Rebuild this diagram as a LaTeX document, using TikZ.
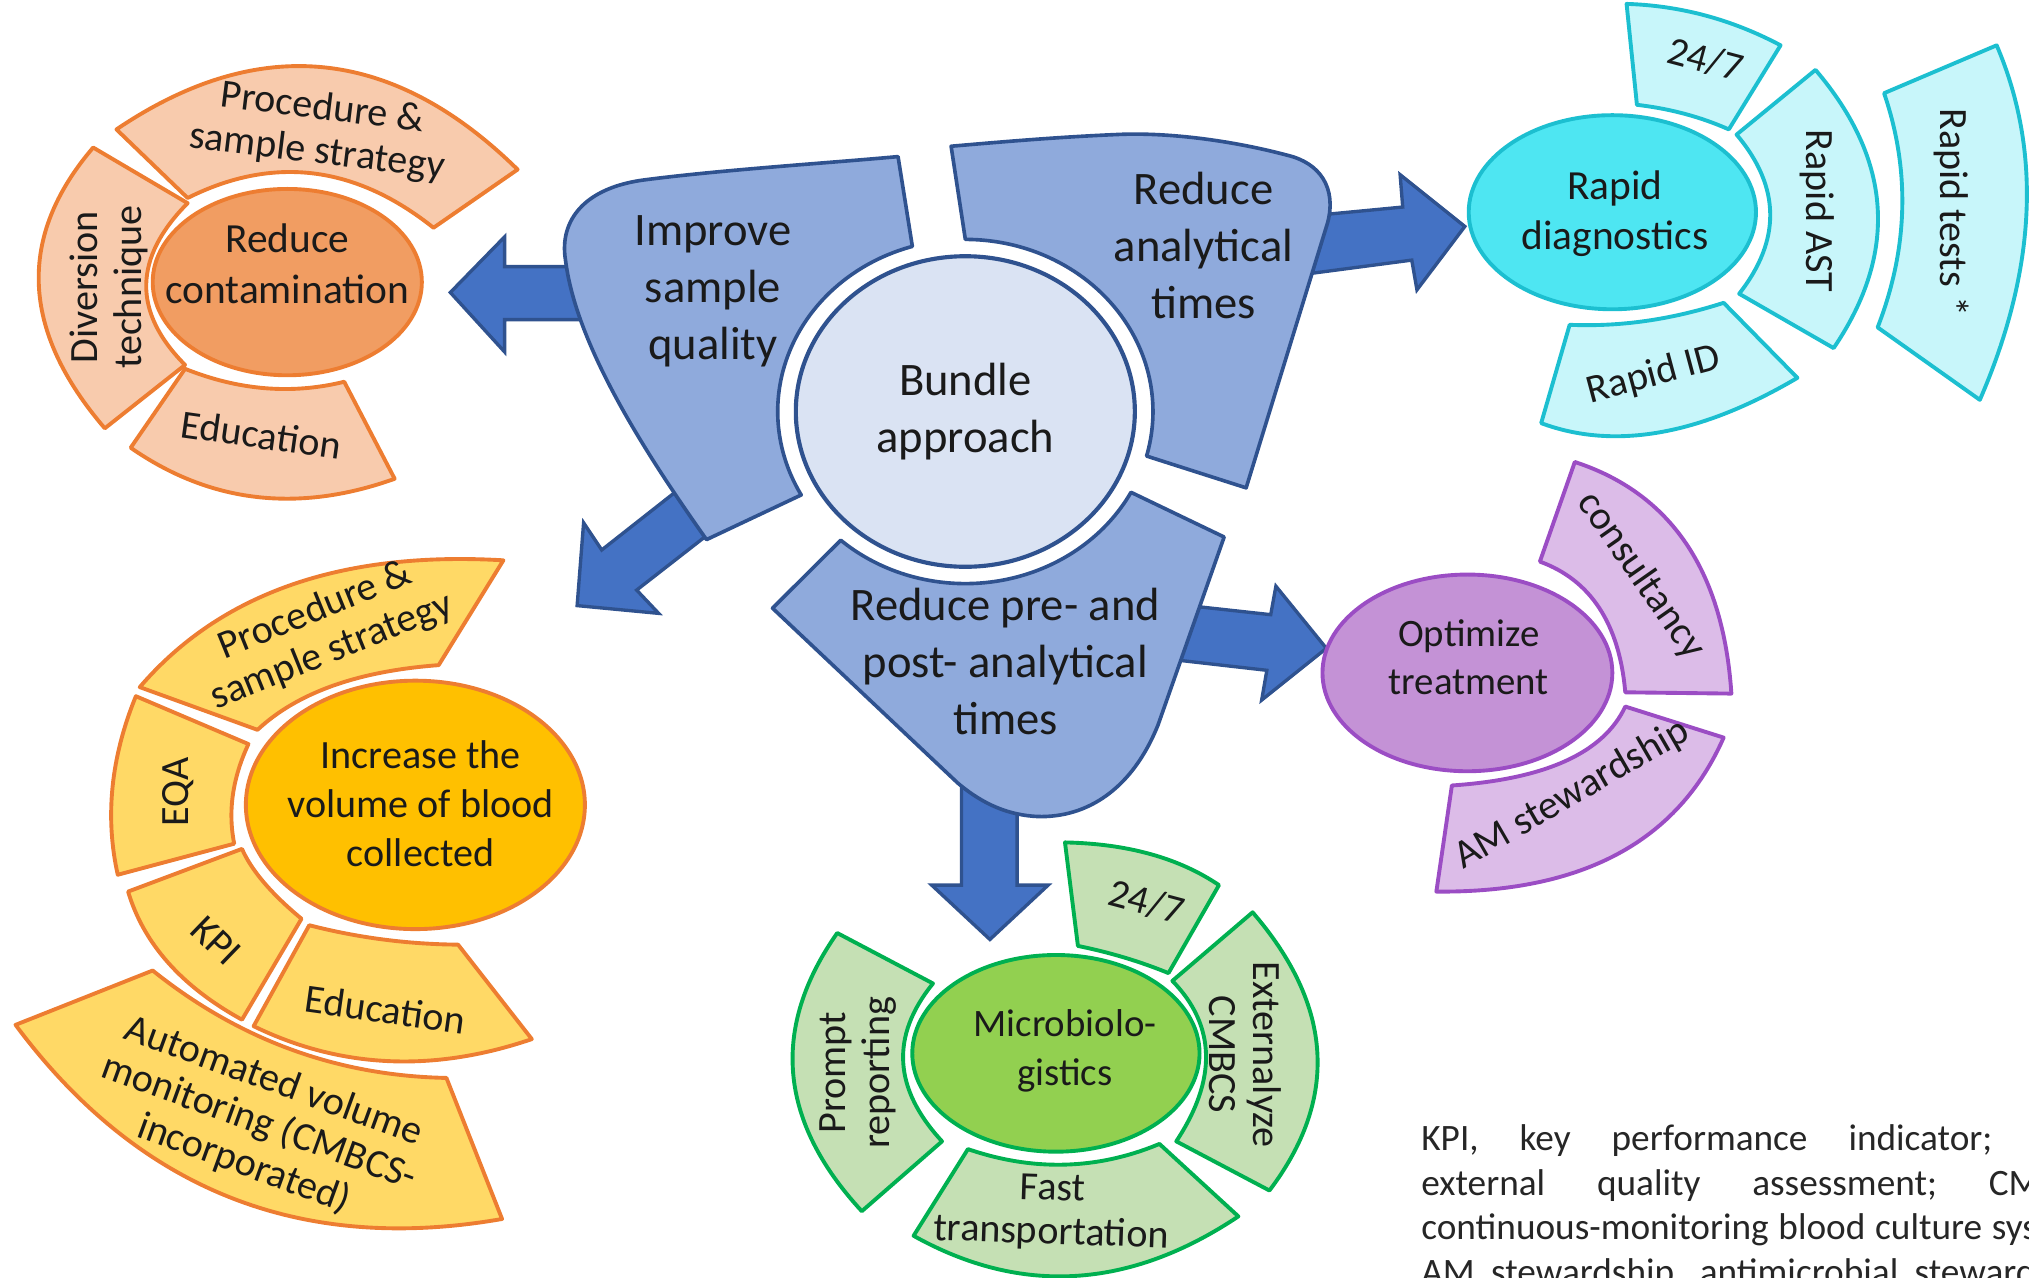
\documentclass[tikz,border=0pt]{standalone}
\usepackage{fontspec}
\setmainfont{Carlito}
\usetikzlibrary{calc,shapes.geometric}

\definecolor{bluedark}{HTML}{2F528F}
\definecolor{arrowblue}{HTML}{4472C4}
\definecolor{partblue}{HTML}{8FAADC}
\definecolor{hubfill}{HTML}{DAE3F3}
\definecolor{orline}{HTML}{ED7D31}
\definecolor{orcore}{HTML}{F19D62}
\definecolor{orleaf}{HTML}{F8CBAD}
\definecolor{cyline}{HTML}{1CBFD0}
\definecolor{cycore}{HTML}{4EE6F2}
\definecolor{cyleaf}{HTML}{C8F6FA}
\definecolor{puline}{HTML}{9B4DC4}
\definecolor{pucore}{HTML}{C492D6}
\definecolor{puleaf}{HTML}{DCBCE8}
\definecolor{yecore}{HTML}{FFC000}
\definecolor{yeleaf}{HTML}{FFD966}
\definecolor{grline}{HTML}{00B050}
\definecolor{grcore}{HTML}{92D050}
\definecolor{grleaf}{HTML}{C5E0B4}
\definecolor{inktext}{HTML}{1A1A1A}
\definecolor{notetext}{HTML}{262626}

% curved segment: outer edge A -> B through Mo, inner edge C -> D through Mi
\newcommand\petalshape[7]{%
  \draw[#1] #2 .. controls ($1.33333*#3-0.33333*#4$) and ($1.33333*#3-0.33333*#2$) .. #4
    -- #5 .. controls ($1.33333*#6-0.33333*#7$) and ($1.33333*#6-0.33333*#5$) .. #7 -- cycle;}

\begin{document}
\begin{tikzpicture}[x=0.5pt,y=-0.5pt,
  blockarrow/.style={fill=arrowblue,draw=bluedark,line width=1.3pt,line join=miter,miter limit=6},
  bluepart/.style={fill=partblue,draw=bluedark,line width=1.4pt,line join=round},
  hub/.style={ellipse,fill=hubfill,draw=bluedark,line width=1.6pt,inner sep=0pt,
    minimum width=131pt,minimum height=120pt,text=inktext,align=center,
    font=\fontsize{18}{22}\selectfont},
  hubtxt/.style={inner sep=0pt,align=center,text=inktext,font=\fontsize{18}{22}\selectfont},
  core/.style={ellipse,inner sep=0pt,line width=1.5pt},
  coretxt/.style={inner sep=0pt,align=center,text=inktext,font=\fontsize{16}{19.5}\selectfont},
  leaftxt/.style={inner sep=0pt,align=center,text=inktext,font=\fontsize{15.5}{17}\selectfont},
  orpet/.style={fill=orleaf,draw=orline,line width=1.5pt,line join=round},
  cypet/.style={fill=cyleaf,draw=cyline,line width=1.5pt,line join=round},
  pupet/.style={fill=puleaf,draw=puline,line width=1.5pt,line join=round},
  yepet/.style={fill=yeleaf,draw=orline,line width=1.5pt,line join=round},
  grpet/.style={fill=grleaf,draw=grline,line width=1.5pt,line join=round}]

\useasboundingbox (0,0) rectangle (1568,987);
\clip (0,0) rectangle (1568,987);
\coordinate (hubc) at (746,318);

% ---- block arrows leaving the bundle ----
\draw[blockarrow] (460,206) -- (390,206) -- (390,183) -- (348,226) -- (390,272) -- (390,247) -- (460,247) -- cycle;
\draw[blockarrow] (1000,168) -- (1084,160) -- (1082,135) -- (1132,175) -- (1095,224) -- (1091,201) -- (1000,213) -- cycle;
\draw[blockarrow] (540,366) -- (465,425) -- (451,404) -- (446,468) -- (509,474) -- (492,456) -- (560,403) -- cycle;
\draw[blockarrow] (900,466) -- (982,475) -- (986,453) -- (1025,501) -- (975,541) -- (979,518) -- (900,509) -- cycle;
\draw[blockarrow] (743,595) -- (743,684) -- (720,684) -- (765,726) -- (810,684) -- (786,684) -- (786,595) -- cycle;

% ---- three parts around the hub ----
\draw[bluepart] (694,121) -- ($(hubc)+(-106.4:145 and 133)$)
  arc[start angle=-106.4,end angle=-209,x radius=145,y radius=133]
  -- (546,417) .. controls (495,345) and (445,265) .. (437,201)
  .. controls (432,170) and (452,145) .. (498,139)
  .. controls (560,131) and (640,126) .. (694,121) -- cycle;
\draw[bluepart] (735,113) -- ($(hubc)+(-90:145 and 133)$)
  arc[start angle=-90,end angle=15,x radius=145,y radius=133]
  -- (963,377) -- (1026,172) .. controls (1033,145) and (1020,126) .. (995,120)
  .. controls (950,108) and (900,102) .. (862,104)
  .. controls (815,106) and (770,110) .. (735,113) -- cycle;
\draw[bluepart] ($(hubc)+(131.6:145 and 133)$)
  arc[start angle=131.6,end angle=28,x radius=145,y radius=133]
  -- (946,415) -- (895,560) .. controls (875,610) and (840,632) .. (802,631)
  .. controls (780,630) and (760,622) .. (740,605) -- (597,470) -- cycle;

\node[hub] (bundle) at (hubc) {Bundle\\approach};
\node[hubtxt] (improve) at (551,225) {Improve\\sample\\quality};
\node[hubtxt] (analytic) at (930,190) {Reduce\\analytical\\times};
\node[hubtxt] (prepost) at (777,511) {Reduce pre- and\\post- analytical\\times};

% ---- reduce contamination ----
\petalshape{orpet}{(90,100)}{(250,52)}{(400,131)}{(335,176)}{(242,134)}{(145,153)}
\petalshape{orpet}{(81,331)}{(30,220)}{(72,114)}{(145,157)}{(113,220)}{(143,282)}
\petalshape{orpet}{(101,346)}{(198,384)}{(305,370)}{(266,295)}{(205,300)}{(143,285)}
\node[core,fill=orcore,draw=orline,minimum width=104pt,minimum height=72pt] (contam) at (222,218) {};
\node[coretxt] (contamtxt) at (222,204) {Reduce\\contamination};
\node[leaftxt,rotate=-7] (oproc) at (247,101) {Procedure \&\\sample strategy};
\node[leaftxt,rotate=90] (odiv) at (84,222) {Diversion\\technique};
\node[leaftxt,rotate=-8] (oedu) at (202,336) {Education};

% ---- rapid diagnostics ----
\petalshape{cypet}{(1257,3)}{(1318,12)}{(1376,35)}{(1336,100)}{(1302,88)}{(1265,81)}
\petalshape{cypet}{(1403,54)}{(1451,160)}{(1417,269)}{(1344,227)}{(1368,165)}{(1342,104)}
\petalshape{cypet}{(1543,35)}{(1566,165)}{(1530,309)}{(1451,253)}{(1470,162)}{(1456,72)}
\petalshape{cypet}{(1191,327)}{(1283,334)}{(1389,292)}{(1332,234)}{(1272,248)}{(1213,251)}
\node[core,fill=cycore,draw=cyline,minimum width=111pt,minimum height=75pt] (rapid) at (1246,164) {};
\node[coretxt] (rapidtxt) at (1248,165) {Rapid\\diagnostics};
\node[leaftxt,rotate=-15] (c247) at (1318,46) {24/7};
\node[leaftxt,rotate=-90] (cast) at (1404,163) {Rapid AST};
\node[leaftxt,rotate=-90] (ctest) at (1508,164) {Rapid tests *};
\node[leaftxt,rotate=15] (cid) at (1278,290) {Rapid ID};

% ---- optimize treatment ----
\petalshape{pupet}{(1217,357)}{(1303,420)}{(1338,536)}{(1256,535)}{(1236,470)}{(1190,434)}
\petalshape{pupet}{(1332,570)}{(1250,660)}{(1110,689)}{(1122,607)}{(1210,588)}{(1256,546)}
\node[core,fill=pucore,draw=puline,minimum width=112pt,minimum height=76pt] (optim) at (1134,520) {};
\node[coretxt,font=\fontsize{15}{18.5}\selectfont] (optimtxt) at (1135,508) {Optimize\\treatment};
\node[leaftxt,rotate=-55] (pcons) at (1268,445) {consultancy};
\node[leaftxt,rotate=30] (pams) at (1215,614) {AM stewardship};

% ---- blood volume ----
\petalshape{yepet}{(108,531)}{(225,452)}{(389,433)}{(339,514)}{(257,530)}{(199,564)}
\petalshape{yepet}{(105,538)}{(87,608)}{(91,676)}{(181,652)}{(180,614)}{(192,575)}
\petalshape{yepet}{(99,689)}{(130,744)}{(187,788)}{(233,710)}{(204,682)}{(187,656)}
\petalshape{yepet}{(196,793)}{(300,820)}{(411,803)}{(354,730)}{(296,726)}{(239,715)}
\petalshape{yepet}{(12,792)}{(177,925)}{(388,942)}{(345,833)}{(225,811)}{(118,750)}
\node[core,fill=yecore,draw=orline,minimum width=131pt,minimum height=96pt] (volume) at (321,622) {};
\node[coretxt,font=\fontsize{15.5}{19}\selectfont] (volumetxt) at (325,621) {Increase the\\volume of blood\\collected};
\node[leaftxt,rotate=22] (yproc) at (250,488) {Procedure \&\\sample strategy};
\node[leaftxt,rotate=90] (yeqa) at (138,612) {EQA};
\node[leaftxt,rotate=-44] (ykpi) at (167,727) {KPI};
\node[leaftxt,rotate=-8] (yedu) at (298,780) {Education};
\node[leaftxt,rotate=-20] (yauto) at (200,868) {Automated volume\\monitoring (CMBCS-\\incorporated)};

% ---- microbiologistics ----
\petalshape{grpet}{(823,651)}{(889,660)}{(942,684)}{(903,752)}{(869,740)}{(833,731)}
\petalshape{grpet}{(968,705)}{(1018,813)}{(981,920)}{(909,882)}{(932,815)}{(906,758)}
\petalshape{grpet}{(957,940)}{(831,986)}{(706,955)}{(748,888)}{(823,900)}{(896,884)}
\petalshape{grpet}{(666,936)}{(613,830)}{(647,721)}{(721,760)}{(698,821)}{(728,882)}
\node[core,fill=grcore,draw=grline,minimum width=111pt,minimum height=76pt] (micro) at (816,814) {};
\node[coretxt,font=\fontsize{15}{19}\selectfont] (microtxt) at (823,812) {Microbiolo-\\gistics};
\node[leaftxt,rotate=-15] (g247) at (886,697) {24/7};
\node[leaftxt,rotate=-90] (gext) at (962,815) {Externalyze\\CMBCS};
\node[leaftxt,rotate=-2] (gfast) at (813,937) {Fast\\transportation};
\node[leaftxt,rotate=90] (gprompt) at (663,829) {Prompt\\reporting};

% ---- abbreviations ----
\node[anchor=base west,inner sep=0pt,text=notetext,font=\fontsize{14.4}{17.3}\selectfont] (abbrev) at (1098,889)
  {\vtop{\hsize=265pt
   \hbox to\hsize{KPI,\hfill key\hfill performance\hfill indicator;\hfill EQA,}
   \hbox to\hsize{external\hfill quality\hfill assessment;\hfill CMBCS,}
   \hbox to\hsize{continuous-monitoring\hfill blood\hfill culture\hfill system;}
   \hbox to\hsize{AM\hfill stewardship,\hfill antimicrobial\hfill stewardship.}}};
\end{tikzpicture}
\end{document}
